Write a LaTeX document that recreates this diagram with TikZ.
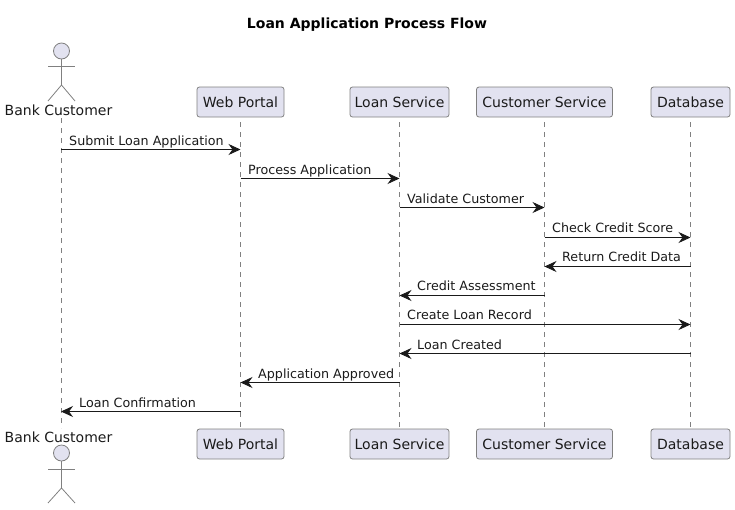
\documentclass[tikz,border=0pt]{standalone}
\usepackage{fontspec}
\setmainfont{DejaVu Sans}
\usetikzlibrary{arrows.meta}
\definecolor{boxfill}{HTML}{E2E2F0}
\definecolor{edgegrey}{HTML}{808080}
\definecolor{inkgrey}{HTML}{1A1A1A}
\tikzset{
  x=1pt,y=-1pt,
  part/.style={draw=edgegrey,fill=boxfill,rounded corners=2.5pt,line width=0.8pt,minimum height=30pt,inner sep=0pt,font=\fontsize{14}{16}\selectfont,text=inkgrey},
  actorline/.style={draw=edgegrey,line width=0.8pt},
  actorhead/.style={draw=edgegrey,fill=boxfill,line width=0.8pt},
  actorlabel/.style={font=\fontsize{14}{16}\selectfont,inner sep=0pt,text=inkgrey},
  life/.style={draw=edgegrey,line width=0.8pt,dash pattern=on 5pt off 5pt},
  msg/.style={draw=inkgrey,line width=0.9pt,-{Stealth[length=12pt,width=11pt,inset=4pt]}},
  msgtext/.style={font=\fontsize{12.7}{15}\selectfont,inner sep=0pt,anchor=base west,text=inkgrey},
  titletext/.style={font=\bfseries\fontsize{14}{16}\selectfont,inner sep=0pt}
}
\begin{document}
\begin{tikzpicture}
\useasboundingbox (0,0) rectangle (735,509);
\node[titletext] (title) at (367,24.5) {Loan Application Process Flow};

% row coordinates
\coordinate (r1) at (0,149.5);
\coordinate (r2) at (0,178.5);
\coordinate (r3) at (0,207.5);
\coordinate (r4) at (0,237.5);
\coordinate (r5) at (0,266.5);
\coordinate (r6) at (0,295.5);
\coordinate (r7) at (0,324.5);
\coordinate (r8) at (0,353.5);
\coordinate (r9) at (0,382.5);
\coordinate (r10) at (0,411.5);

% lifeline ends of the actor
\coordinate (bcT) at (61,118);
\coordinate (bcB) at (61,428);

% lifelines first (behind boxes)
\coordinate (wpC) at (240.5,102);
\coordinate (lsC) at (399.5,102);
\coordinate (csC) at (544.5,102);
\coordinate (dbC) at (690.5,102);
\coordinate (wpD) at (240.5,444);
\coordinate (lsD) at (399.5,444);
\coordinate (csD) at (544.5,444);
\coordinate (dbD) at (690.5,444);
\draw[life] (bcT) -- (bcB);
\draw[life] (wpC) -- (wpD);
\draw[life] (lsC) -- (lsD);
\draw[life] (csC) -- (csD);
\draw[life] (dbC) -- (dbD);

% top participants
\node[part,minimum width=87pt] (wpT) at (wpC) {Web Portal};
\node[part,minimum width=99pt] (lsT) at (lsC) {Loan Service};
\node[part,minimum width=136pt] (csT) at (csC) {Customer Service};
\node[part,minimum width=79pt] (dbT) at (dbC) {Database};
% bottom participants
\node[part,minimum width=87pt] (wpB) at (wpD) {Web Portal};
\node[part,minimum width=99pt] (lsB) at (lsD) {Loan Service};
\node[part,minimum width=136pt] (csB) at (csD) {Customer Service};
\node[part,minimum width=79pt] (dbB) at (dbD) {Database};

% top actor
\node[actorhead,circle,minimum size=16pt,inner sep=0pt] (headT) at (61.5,51) {};
\coordinate (hipT) at (61.5,85);
\draw[actorline] (headT.south) -- (hipT);
\draw[actorline] (48,66) -- (75,66);
\draw[actorline] (48,101) -- (hipT) -- (75,101);
\node[actorlabel] (bcLT) at (58.5,110) {Bank Customer};
% bottom actor
\node[actorhead,circle,minimum size=16pt,inner sep=0pt] (headB) at (61.5,453) {};
\coordinate (hipB) at (61.5,488);
\draw[actorline] (headB.south) -- (hipB);
\draw[actorline] (48,469) -- (75,469);
\draw[actorline] (48,503) -- (hipB) -- (75,503);
\node[actorlabel] (bcLB) at (58.5,437) {Bank Customer};

% messages
\draw[msg] (bcT |- r1) -- (wpC |- r1);
\draw[msg] (wpC |- r2) -- (lsC |- r2);
\draw[msg] (lsC |- r3) -- (csC |- r3);
\draw[msg] (csC |- r4) -- (dbC |- r4);
\draw[msg] (dbC |- r5) -- (csC |- r5);
\draw[msg] (csC |- r6) -- (lsC |- r6);
\draw[msg] (lsC |- r7) -- (dbC |- r7);
\draw[msg] (dbC |- r8) -- (lsC |- r8);
\draw[msg] (lsC |- r9) -- (wpC |- r9);
\draw[msg] (wpC |- r10) -- (bcT |- r10);

\node[msgtext] (t1) at (69,145) {Submit Loan Application};
\node[msgtext] (t2) at (248,174) {Process Application};
\node[msgtext] (t3) at (407,203) {Validate Customer};
\node[msgtext] (t4) at (552,232) {Check Credit Score};
\node[msgtext] (t5) at (562,261) {Return Credit Data};
\node[msgtext] (t6) at (417,290) {Credit Assessment};
\node[msgtext] (t7) at (407,319) {Create Loan Record};
\node[msgtext] (t8) at (417,349) {Loan Created};
\node[msgtext] (t9) at (258,378) {Application Approved};
\node[msgtext] (t10) at (79,407) {Loan Confirmation};
\end{tikzpicture}
\end{document}
